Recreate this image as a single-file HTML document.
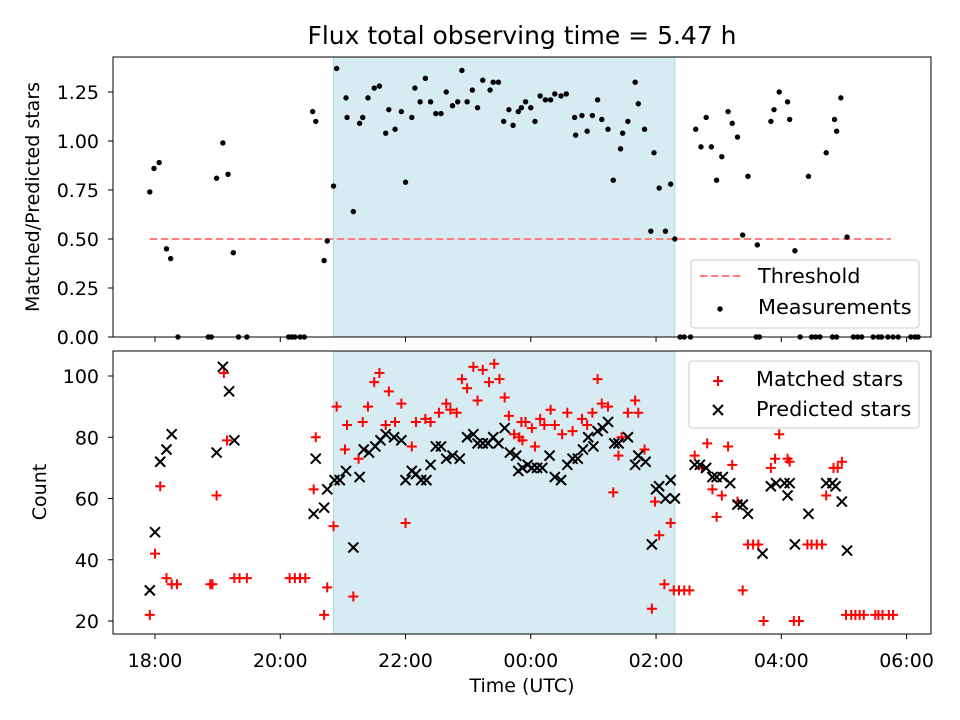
<!DOCTYPE html>
<html><head><meta charset="utf-8"><title>Flux observing time</title>
<style>
html,body{margin:0;padding:0;background:#fff;}
svg{display:block;font-family:"DejaVu Sans","Liberation Sans",sans-serif;}
</style></head>
<body>
<svg id="chart" width="960" height="720" viewBox="0 0 960 720" xmlns="http://www.w3.org/2000/svg"></svg>
<script>
// ---- data (time in minutes after 18:00 UTC) ----
const xTickMinutes = [0,120,240,360,480,600,720];
const xTickLabels = ["18:00","20:00","22:00","00:00","02:00","04:00","06:00"];
const topTicks = [0,0.25,0.5,0.75,1.0,1.25];
const topTickLabels = ["0.00","0.25","0.50","0.75","1.00","1.25"];
const bottomTicks = [20,40,60,80,100];
const shadeStart = 171, shadeEnd = 498;
const threshold = 0.5, thresholdStart = -5, thresholdEnd = 705;

const ratioTimes = [-5,-1,4,11,15,59,65,70,75,151,154,162,165,171,174,184,183,190,196,199,204,210,215,221,224,230,236,240,246,249,254,259,264,269,274,279,285,290,294,299,304,309,314,321,324,329,334,339,343,348,351,355,360,364,369,374,379,383,389,394,402,403,409,414,419,424,428,434,439,446,448,453,460,463,469,475,478,483,489,494,498,518,523,528,533,538,543,549,553,558,563,568,577,590,593,598,606,608,613,626,643,651,653,657,663,
22,51,54,80,88,128,131,134,139,143,503,507,513,576,579,618,629,633,637,649,653,669,673,677,688,693,696,702,707,712,724,728,731];
const ratioValues = [0.74,0.86,0.89,0.45,0.40,0.81,0.99,0.83,0.43,1.15,1.10,0.39,0.49,0.77,1.37,1.12,1.22,0.64,1.09,1.12,1.22,1.27,1.28,1.04,1.16,1.06,1.15,0.79,1.12,1.27,1.20,1.32,1.20,1.14,1.14,1.25,1.18,1.20,1.36,1.20,1.26,1.17,1.31,1.26,1.30,1.30,1.10,1.16,1.08,1.15,1.17,1.20,1.17,1.10,1.23,1.21,1.21,1.24,1.23,1.24,1.12,1.03,1.13,1.05,1.13,1.21,1.11,1.06,0.80,0.96,1.04,1.10,1.30,1.19,1.06,0.54,0.94,0.76,0.54,0.78,0.50,1.06,0.97,1.12,0.97,0.80,0.92,1.15,1.09,1.02,0.52,0.82,0.47,1.10,1.16,1.25,1.20,1.11,0.44,0.82,0.94,1.11,1.05,1.22,0.51,
0,0,0,0,0,0,0,0,0,0,0,0,0,0,0,0,0,0,0,0,0,0,0,0,0,0,0,0,0,0,0,0,0];

const matchedTimes = [-5,0,5,11,16,21,53,55,59,66,69,76,81,88,129,134,139,144,154,152,165,162,171,174,182,184,190,195,199,204,210,215,224,221,230,236,240,246,250,259,264,272,279,283,289,294,299,305,309,314,320,325,330,335,339,344,349,351,352,355,361,364,369,373,379,383,390,395,400,409,414,419,424,428,434,439,447,444,453,460,463,469,476,479,483,488,494,497,502,507,512,517,524,529,534,538,543,549,553,558,563,568,573,578,583,590,594,598,606,608,612,617,625,629,634,639,643,650,654,658,662,667,671,675,679,690,693,697,703,707];
const matchedCounts = [22,42,64,34,32,32,32,32,61,101,79,34,34,34,34,34,34,34,80,63,31,22,51,90,76,84,28,73,85,90,98,101,95,84,85,91,52,77,85,86,85,88,91,89,88,99,96,103,92,102,98,104,99,93,87,81,80,85,79,85,83,77,86,84,89,84,81,88,82,86,84,88,99,91,90,62,80,74,88,92,88,76,24,59,48,32,52,30,30,30,30,74,70,78,63,54,61,77,71,59,30,45,45,45,20,70,73,81,73,72,20,20,45,45,45,45,61,70,70,72,22,22,22,22,22,22,22,22,22,22];

const predictedTimes = [-5,0,5,11,16,59,65,71,76,152,162,154,165,172,177,183,190,196,200,205,211,216,221,229,236,240,246,250,255,260,264,269,274,279,285,292,299,305,309,314,319,324,329,335,340,346,348,352,357,361,366,371,378,383,389,395,400,405,410,415,420,424,429,434,440,444,453,460,463,470,476,480,483,489,494,498,517,522,528,534,538,544,551,558,563,568,582,590,595,603,606,608,613,626,643,649,652,658,663];
const predictedCounts = [30,49,72,76,81,75,103,95,79,55,57,73,63,66,66,69,44,67,76,75,77,79,81,80,79,66,69,68,66,66,71,77,77,73,74,73,80,81,78,78,78,80,78,83,75,74,69,70,71,70,70,70,74,67,66,71,73,73,76,80,77,82,83,85,78,78,80,71,74,72,45,63,64,60,66,60,71,71,70,67,67,67,65,58,58,55,42,64,65,65,61,65,45,55,65,65,64,59,43];

// ---- axes ----
const NS = "http://www.w3.org/2000/svg";
const svg = document.getElementById('chart');
const L = 113, R = 931;
const xMin = -40.24, xMax = 743.4;
const xs = m => L + (m - xMin) / (xMax - xMin) * (R - L);
const topT = 57, topB = 337;
const yTop = v => topB - v * 196;
const botT = 351, botB = 634;
const yBot = v => 621 - (v - 20) * 3.0625;
const TICKFS = 19, LEGFS = 20.8;

function mk(tag, attrs, parent) {
  const e = document.createElementNS(NS, tag);
  for (const k in attrs) e.setAttribute(k, attrs[k]);
  (parent || svg).appendChild(e);
  return e;
}
function txt(s, attrs, parent) { const e = mk('text', attrs, parent); e.textContent = s; return e; }

// title
const title = txt("Flux total observing time = 5.47 h", {x: 522, y: 44, 'font-size': 25, 'text-anchor': 'middle', fill: '#000'});



function panel(name, T, B) {
  const g = mk('g', {});
  
  
  const sh = mk('rect', {x: xs(shadeStart), y: T, width: xs(shadeEnd) - xs(shadeStart), height: B - T, fill: '#add8e6', 'fill-opacity': 0.5, stroke: '#8cc4d8', 'stroke-opacity': 0.6}, g);
  
  
  return g;
}
function frame(g, name, T, B) {
  const f = mk('rect', {x: L, y: T, width: R - L, height: B - T, fill: 'none', stroke: '#000', 'stroke-width': 1}, g);
  
  
  xTickMinutes.forEach((m, i) => {
    const t = mk('line', {x1: xs(m), x2: xs(m), y1: B, y2: B + 5, stroke: '#000'}, g);
    
    
  });
}

// top panel
const gTop = panel('ratio-panel', topT, topB);
const thr = mk('line', {x1: xs(thresholdStart), x2: xs(thresholdEnd), y1: yTop(threshold), y2: yTop(threshold), stroke: '#ff7f7f', 'stroke-width': 2, 'stroke-dasharray': '7.5,3.5'}, gTop);


ratioTimes.forEach((t, i) => {
  const c = mk('circle', {cx: xs(t), cy: yTop(ratioValues[i]), r: 2.7, fill: '#000'}, gTop);
  
  
});
frame(gTop, 'ratio-panel', topT, topB);
topTicks.forEach((v, i) => {
  const t = mk('line', {x1: L - 5, x2: L, y1: yTop(v), y2: yTop(v), stroke: '#000'}, gTop);
  
  
  const l = txt(topTickLabels[i], {x: L - 14, y: yTop(v) + 7, 'font-size': TICKFS, 'text-anchor': 'end'}, gTop);
  
  
});
const ylt = txt("Matched/Predicted stars", {x: 0, y: 0, 'font-size': TICKFS, 'text-anchor': 'middle', transform: 'translate(39,197) rotate(-90)'}, gTop);



// top legend
const lg1 = mk('g', {}, gTop);


mk('rect', {x: 691, y: 260, width: 228, height: 68, rx: 3, fill: '#fff', 'fill-opacity': 0.8, stroke: '#ccc'}, lg1);
mk('line', {x1: 700, x2: 741, y1: 276, y2: 276, stroke: '#ff7f7f', 'stroke-width': 2, 'stroke-dasharray': '7.5,3.5'}, lg1);
const le1 = txt("Threshold", {x: 758, y: 283, 'font-size': LEGFS}, lg1);


mk('circle', {cx: 720, cy: 309, r: 2.7, fill: '#000'}, lg1);
const le2 = txt("Measurements", {x: 758, y: 314, 'font-size': LEGFS}, lg1);



// bottom panel
const gBot = panel('count-panel', botT, botB);
function plus(g, x, y) {
  return mk('path', {d: `M${x-5},${y}H${x+5}M${x},${y-5}V${y+5}`, stroke: '#f00', 'stroke-width': 2}, g);
}
function cross(g, x, y) {
  return mk('path', {d: `M${x-5},${y-5}L${x+5},${y+5}M${x-5},${y+5}L${x+5},${y-5}`, stroke: '#000', 'stroke-width': 2}, g);
}
matchedTimes.forEach((t, i) => {
  const p = plus(gBot, xs(t), yBot(matchedCounts[i]));
  
  
});
predictedTimes.forEach((t, i) => {
  const p = cross(gBot, xs(t), yBot(predictedCounts[i]));
  
  
});
frame(gBot, 'count-panel', botT, botB);
bottomTicks.forEach(v => {
  const t = mk('line', {x1: L - 5, x2: L, y1: yBot(v), y2: yBot(v), stroke: '#000'}, gBot);
  
  
  const l = txt(String(v), {x: L - 14, y: yBot(v) + 7, 'font-size': TICKFS, 'text-anchor': 'end'}, gBot);
  
  
});
xTickMinutes.forEach((m, i) => {
  const l = txt(xTickLabels[i], {x: xs(m), y: 667, 'font-size': TICKFS, 'text-anchor': 'middle'}, gBot);
  
  
});
const ylb = txt("Count", {x: 0, y: 0, 'font-size': TICKFS, 'text-anchor': 'middle', transform: 'translate(46,492) rotate(-90)'}, gBot);


const xl = txt("Time (UTC)", {x: 522, y: 692, 'font-size': TICKFS, 'text-anchor': 'middle'}, gBot);



// bottom legend
const lg2 = mk('g', {}, gBot);


mk('rect', {x: 689, y: 361, width: 230, height: 67, rx: 3, fill: '#fff', 'fill-opacity': 0.8, stroke: '#ccc'}, lg2);
plus(lg2, 718, 381);
const le3 = txt("Matched stars", {x: 756, y: 386, 'font-size': LEGFS}, lg2);


cross(lg2, 718, 410);
const le4 = txt("Predicted stars", {x: 756, y: 416, 'font-size': LEGFS}, lg2);


</script>
</body></html>
